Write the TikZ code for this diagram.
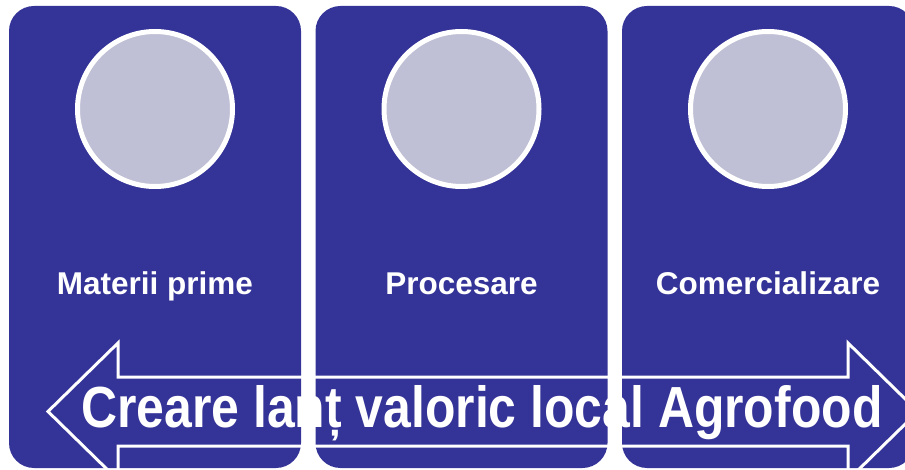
\documentclass[tikz,border=0pt]{standalone}
\usepackage{fontspec}
\setmainfont{Liberation Sans}
\definecolor{boxblue}{RGB}{52,51,151}
\definecolor{discfill}{RGB}{191,191,213}
\tikzset{
  panel/.style={fill=boxblue, draw=none, rounded corners=25pt, minimum width=292pt, minimum height=462pt, inner sep=0pt},
  disc/.style={circle, fill=discfill, draw=white, line width=5pt, minimum size=155pt, inner sep=0pt},
  label/.style={text=white, font=\fontsize{31.5}{36}\selectfont\bfseries, anchor=base, inner sep=0pt},
  bigarrow/.style={draw=white, line width=3pt, line join=miter},
  bigtext/.style={text=white, font=\fontsize{58}{64}\selectfont\bfseries, anchor=base, inner sep=0pt}
}
\begin{document}
\begin{tikzpicture}[x=1pt,y=1pt]
\useasboundingbox (0,0) rectangle (905,469);
\clip (0,0) rectangle (905,469);
\node[panel] (p1) at (155,232) {};
\node[panel] (p2) at (461.5,232) {};
\node[panel] (p3) at (768,232) {};
\node[disc] (c1) at (155,360) {};
\node[disc] (c2) at (461.5,360) {};
\node[disc] (c3) at (768,360) {};
\node[label] (l1) at (155,175) {Materii prime};
\node[label] (l2) at (461.5,175) {Procesare};
\node[label] (l3) at (768,175) {Comercializare};
\draw[bigarrow] (48,57.5) -- (118,126) -- (118,92) -- (848,92) -- (848,126) -- (918,57.5)
  -- (848,-11) -- (848,23) -- (118,23) -- (118,-11) -- cycle;
\node[bigtext] (t) at (482,42) {\scalebox{0.86}[1]{Creare lanț valoric local Agrofood}};
\end{tikzpicture}
\end{document}
